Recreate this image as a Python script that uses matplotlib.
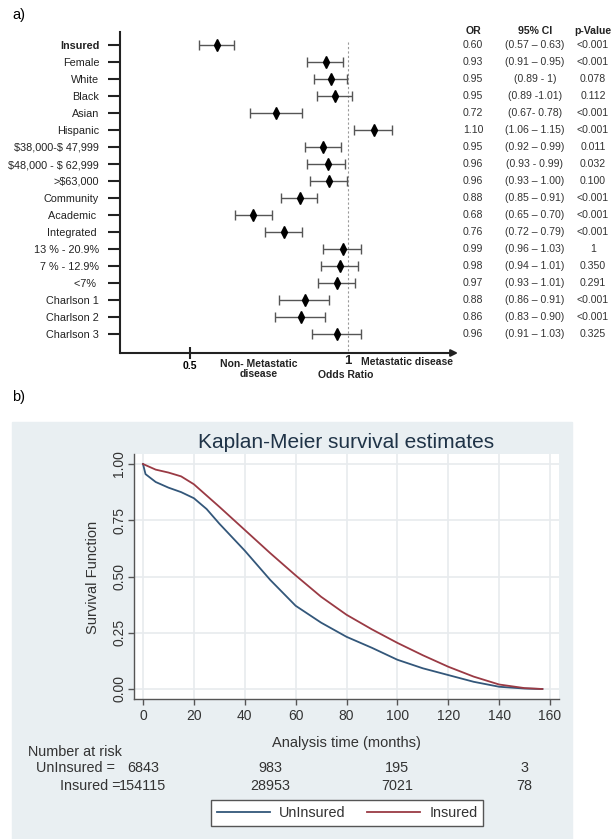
import matplotlib
matplotlib.use('Agg')
import matplotlib.pyplot as plt
import matplotlib.transforms as mtransforms
from matplotlib.patches import Rectangle
import numpy as np

plt.rcParams['font.family'] = ['Liberation Sans', 'DejaVu Sans']
plt.rcParams['text.parse_math'] = False

# ---------------- data: panel a (forest plot) ----------------
labels = ['Insured', 'Female', 'White', 'Black', 'Asian', 'Hispanic',
          '$38,000-$ 47,999', '$48,000 - $ 62,999', '>$63,000',
          'Community', 'Academic ', 'Integrated ', '13 % - 20.9%',
          '7 % - 12.9%', '<7% ', 'Charlson 1', 'Charlson 2', 'Charlson 3']
# point estimates and whiskers as drawn in the picture
est = [0.585, 0.930, 0.946, 0.959, 0.772, 1.082, 0.921, 0.937, 0.940,
       0.848, 0.699, 0.797, 0.984, 0.975, 0.965, 0.864, 0.851, 0.965]
lo = [0.528, 0.870, 0.892, 0.902, 0.690, 1.019, 0.864, 0.870, 0.880,
      0.788, 0.642, 0.737, 0.921, 0.915, 0.905, 0.782, 0.769, 0.886]
hi = [0.639, 0.984, 0.997, 1.013, 0.854, 1.139, 0.978, 0.991, 0.997,
      0.902, 0.759, 0.854, 1.041, 1.032, 1.022, 0.940, 0.927, 1.041]
or_text = ['0.60', '0.93', '0.95', '0.95', '0.72', '1.10', '0.95', '0.96', '0.96',
           '0.88', '0.68', '0.76', '0.99', '0.98', '0.97', '0.88', '0.86', '0.96']
ci_text = ['(0.57 – 0.63)', '(0.91 – 0.95)', '(0.89 - 1)', '(0.89 -1.01)',
           '(0.67- 0.78)', '(1.06 – 1.15)', '(0.92 – 0.99)', '(0.93 - 0.99)',
           '(0.93 – 1.00)', '(0.85 – 0.91)', '(0.65 – 0.70)', '(0.72 – 0.79)',
           '(0.96 – 1.03)', '(0.94 – 1.01)', '(0.93 – 1.01)', '(0.86 – 0.91)',
           '(0.83 – 0.90)', '(0.91 – 1.03)']
p_text = ['<0.001', '<0.001', '0.078', '0.112', '<0.001', '<0.001', '0.011',
          '0.032', '0.100', '<0.001', '<0.001', '<0.001', '1', '0.350',
          '0.291', '<0.001', '<0.001', '0.325']

# ---------------- data: panel b (Kaplan-Meier) ----------------
t_unins = [0, 1, 5, 10, 15, 20, 25, 30, 40, 50, 60, 70, 80, 90, 100,
           110, 120, 130, 140, 150, 157]
s_unins = [1.0, 0.955, 0.92, 0.895, 0.875, 0.848, 0.80, 0.735, 0.615, 0.485,
           0.37, 0.295, 0.232, 0.183, 0.13, 0.092, 0.062, 0.032, 0.010, 0.002, 0.0]
t_ins = [0, 5, 10, 15, 20, 25, 30, 40, 50, 60, 70, 80, 90, 100, 110, 120,
         130, 140, 150, 157]
s_ins = [1.0, 0.975, 0.962, 0.945, 0.91, 0.86, 0.81, 0.707, 0.604, 0.505,
         0.41, 0.33, 0.265, 0.205, 0.15, 0.099, 0.055, 0.02, 0.004, 0.0]
risk_times = [0, 50, 100, 150]
risk_unins = ['6843', '983', '195', '3']
risk_ins = ['154115', '28953', '7021', '78']

W, H = 614, 839
fig = plt.figure(figsize=(W / 100, H / 100), dpi=100)


def fx(px):
    return px / W


def fy(py):
    return 1 - py / H


# ================= panel a =================
ax1 = fig.add_axes([fx(120), fy(353), fx(458) - fx(120), fy(32) - fy(353)])
n = len(labels)
row_px = (334 - 45) / (n - 1)
ax1.set_xlim(0.5 - 70 / 316, 1 + 110 / 316)
ax1.set_ylim((353 - 45) / row_px, (32 - 45) / row_px)
yy = np.arange(n)
est_a = np.array(est)
ax1.plot([1, 1], [(42 - 45) / row_px, (353 - 45) / row_px], color='#9a9a9a',
         lw=0.8, ls=(0, (2, 2)), zorder=1)
ax1.errorbar(est_a, yy, xerr=[est_a - np.array(lo), np.array(hi) - est_a],
             fmt='none', ecolor='#555555', elinewidth=1, capsize=3.3,
             capthick=1, zorder=2)
ax1.plot(est_a, yy, 'd', color='black', markersize=5.8, zorder=3)

ax1.set_yticks(yy)
ax1.set_yticklabels(labels, fontsize=7.8, color='#222222')
ax1.get_yticklabels()[0].set_fontweight('bold')
ax1.tick_params(axis='y', length=9, width=1.5, pad=6, color='#222222')
ax1.set_xticks([0.5])
ax1.set_xticklabels(['0.5'], fontweight='bold', fontsize=7.5)
ax1.tick_params(axis='x', direction='inout', length=9, width=1.5, pad=1.5,
                color='#222222')
for s in ['top', 'right', 'bottom']:
    ax1.spines[s].set_visible(False)
ax1.spines['left'].set_linewidth(1.5)
ax1.spines['left'].set_color('#222222')
ax1.annotate('', xy=(1.0, 0), xytext=(0, 0), xycoords='axes fraction',
             arrowprops=dict(arrowstyle='-|>', lw=1.5, color='#222222',
                             mutation_scale=10, shrinkA=0, shrinkB=0))

fig.text(fx(348), fy(361), '1', ha='center', va='center', fontsize=9.5,
         fontweight='bold', color='#222222')
fig.text(fx(259), fy(369), 'Non- Metastatic\ndisease', ha='center', va='center',
         fontsize=7.5, fontweight='bold', linespacing=1.05, color='#222222')
fig.text(fx(361), fy(362), 'Metastatic disease', ha='left', va='center',
         fontsize=7.5, fontweight='bold', color='#222222')
fig.text(fx(318), fy(375), 'Odds Ratio', ha='left', va='center',
         fontsize=7.5, fontweight='bold', color='#222222')
fig.text(fx(12), fy(15), 'a)', ha='left', va='center', fontsize=10.5)
fig.text(fx(12), fy(397), 'b)', ha='left', va='center', fontsize=10.5)

trans = mtransforms.blended_transform_factory(fig.transFigure, ax1.transData)
hdr_y = (31 - 45) / row_px
cols = [(fx(473), 'OR', or_text), (fx(535), '95% CI', ci_text),
        (fx(593), 'p-Value', p_text)]
for cx, head, vals in cols:
    ax1.text(cx, hdr_y, head, transform=trans, ha='center', va='center',
             fontsize=7.6, fontweight='bold', color='#222222')
    for i, v in enumerate(vals):
        ax1.text(cx, i, v, transform=trans, ha='center', va='center',
                 fontsize=7.6, color='#333333')

# ================= panel b =================
fig.patches.append(Rectangle((fx(12), 0), fx(572) - fx(12), fy(422),
                             transform=fig.transFigure, color='#e9eff2',
                             zorder=-10))
ax2 = fig.add_axes([fx(134), fy(699), fx(559) - fx(134), fy(454) - fy(699)])
pxm = 408 / 160
ax2.set_xlim(-9 / pxm, 160 + 9 / pxm)
ax2.set_ylim(-10 / 225, 1 + 10 / 225)
ax2.set_facecolor('white')
ax2.grid(True, color='#e8ebee', lw=1.2)
ax2.set_axisbelow(True)
l1, = ax2.plot(t_unins, s_unins, color='#33577a', lw=1.3, label='UnInsured')
l2, = ax2.plot(t_ins, s_ins, color='#9a3a44', lw=1.3, label='Insured')
ax2.set_xticks(np.arange(0, 161, 20))
ax2.set_yticks([0, 0.25, 0.5, 0.75, 1.0])
ax2.set_yticklabels(['0.00', '0.25', '0.50', '0.75', '1.00'], rotation=90,
                    va='center')
ax2.tick_params(length=4.5, width=1, color='#555555', labelsize=10,
                labelcolor='#333333', pad=3)
ax2.tick_params(axis='y', pad=1)
for s in ['top', 'right']:
    ax2.spines[s].set_visible(False)
for s in ['left', 'bottom']:
    ax2.spines[s].set_color('#555555')
    ax2.spines[s].set_linewidth(1)

fig.text(fx(346.5), fy(442), 'Kaplan-Meier survival estimates', ha='center',
         va='center', fontsize=15, color='#1f3347')
fig.text(fx(93), fy(577), 'Survival Function', rotation=90, ha='center',
         va='center', fontsize=10.5, color='#333333')
fig.text(fx(346.5), fy(743), 'Analysis time (months)', ha='center',
         va='center', fontsize=10.5, color='#333333')

rt = mtransforms.blended_transform_factory(ax2.transData, fig.transFigure)
fig.text(fx(28), fy(752), 'Number at risk', ha='left', va='center',
         fontsize=10.4, color='#333333')
fig.text(fx(119), fy(768), 'UnInsured = ', ha='right', va='center',
         fontsize=10.4, color='#333333')
fig.text(fx(121), fy(786), 'Insured =', ha='right', va='center',
         fontsize=10.4, color='#333333')
for tt, a, b in zip(risk_times, risk_unins, risk_ins):
    ax2.text(tt, fy(768), a, transform=rt, ha='center', va='center',
             fontsize=10.4, color='#333333')
    ax2.text(tt, fy(786), b, transform=rt, ha='center', va='center',
             fontsize=10.4, color='#333333')

leg = fig.legend(handles=[l1, l2], loc='center',
                 bbox_to_anchor=(fx(347), fy(813)), ncol=2, fontsize=10.4,
                 handlelength=3.7, handletextpad=0.6, columnspacing=1.5,
                 borderpad=0.4, fancybox=False, framealpha=1,
                 edgecolor='#555555')
leg.get_frame().set_linewidth(1)
for t in leg.get_texts():
    t.set_color('#333333')

fig.savefig('out.png', dpi=100)
